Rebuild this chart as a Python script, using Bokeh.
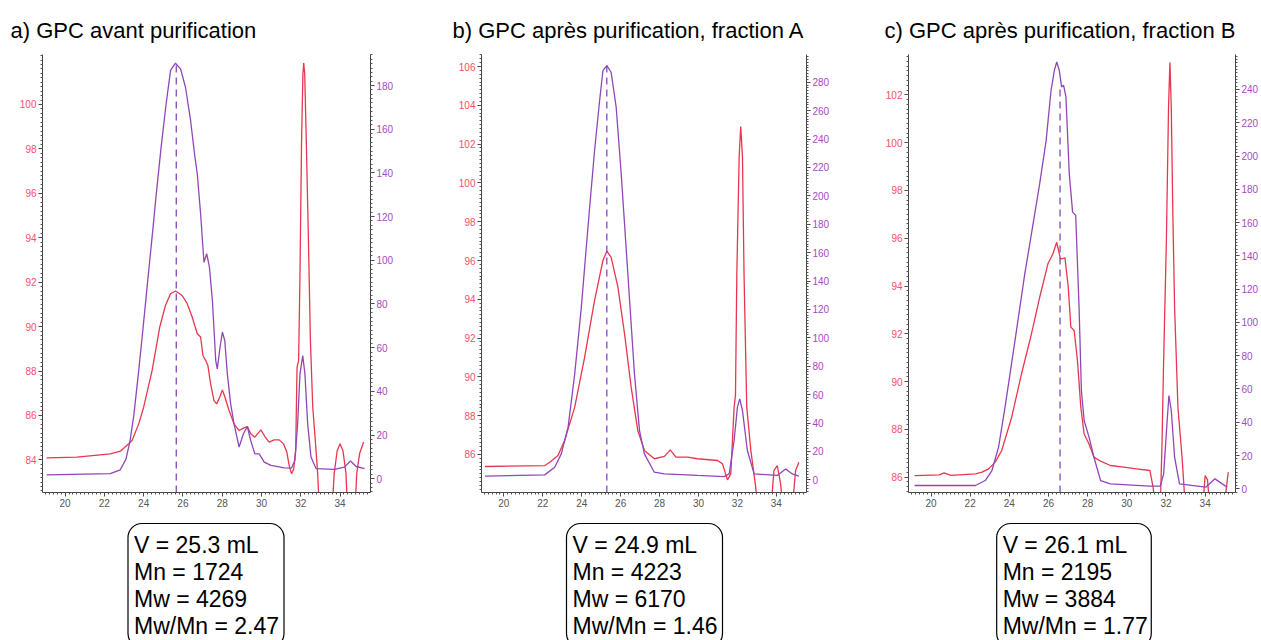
import numpy as np
from bokeh.plotting import figure
from bokeh.models import Range1d, LinearAxis, FixedTicker
from bokeh.layouts import row, column
from bokeh.embed import file_html
from bokeh.resources import INLINE
from bokeh.core.properties import value

# ---------------- texts ----------------
titles = ["a) GPC avant purification",
          "b) GPC après purification, fraction A",
          "c) GPC après purification, fraction B"]
box_lines = [["V = 25.3 mL", "Mn = 1724", "Mw = 4269", "Mw/Mn = 2.47"],
             ["V = 24.9 mL", "Mn = 4223", "Mw = 6170", "Mw/Mn = 1.46"],
             ["V = 26.1 mL", "Mn = 2195", "Mw = 3884", "Mw/Mn = 1.77"]]

# ---------------- ticks / ranges ----------------
x_ticks = [20, 22, 24, 26, 28, 30, 32, 34]
x_range_vals = (18.85, 35.55)
a_left_ticks = [84, 86, 88, 90, 92, 94, 96, 98, 100]
a_right_ticks = [0, 20, 40, 60, 80, 100, 120, 140, 160, 180]
b_left_ticks = [86, 88, 90, 92, 94, 96, 98, 100, 102, 104, 106]
b_right_ticks = [0, 20, 40, 60, 80, 100, 120, 140, 160, 180, 200, 220, 240, 260, 280]
c_left_ticks = [86, 88, 90, 92, 94, 96, 98, 100, 102]
c_right_ticks = [0, 20, 40, 60, 80, 100, 120, 140, 160, 180, 200, 220, 240]
a_left_range = (82.53, 102.25)
a_right_range = (-6.3, 194.2)
b_left_range = (84.04, 106.62)
b_right_range = (-8.9, 299.5)
c_left_range = (85.36, 103.69)
c_right_range = (-2.2, 261.0)

# ---------------- panel a ----------------
a_red_x = [19.06, 20.60, 22.30, 22.81, 23.24, 23.41, 23.75, 24.00, 24.43, 24.82, 25.11, 25.37, 25.62,
           25.96, 26.22, 26.47, 26.73, 26.90, 27.02, 27.16, 27.27, 27.41, 27.58, 27.72, 27.87, 28.01,
           28.14, 28.35, 28.60, 28.86, 29.11, 29.28, 29.45, 29.66, 29.97, 30.17, 30.39, 30.65, 30.90,
           31.12, 31.29, 31.41, 31.53, 31.64, 31.74, 31.81, 31.89, 31.96, 32.04, 32.11, 32.15, 32.20,
           32.28, 32.39, 32.49, 32.61, 32.74, 32.86, 32.98, 33.55, 33.70, 33.85, 34.00, 34.15, 34.30,
           34.42, 34.72, 34.85, 35.00, 35.20]
a_red_y = [84.09, 84.12, 84.27, 84.39, 84.72, 84.87, 85.62, 86.37, 88.02, 89.98, 90.95, 91.48, 91.60,
           91.40, 91.03, 90.43, 89.68, 89.53, 88.70, 88.47, 88.25, 87.42, 86.67, 86.52, 86.82, 87.15,
           86.82, 86.22, 85.62, 85.32, 85.44, 85.50, 85.17, 85.02, 85.35, 85.05, 84.80, 84.90, 84.90,
           84.72, 84.35, 83.74, 83.37, 83.59, 84.42, 88.17, 88.47, 92.38, 98.38, 101.39, 101.87, 101.39,
           98.38, 93.88, 89.38, 86.37, 84.87, 83.37, 81.12, 81.00, 83.37, 84.40, 84.73, 84.40, 83.40,
           81.00, 81.00, 83.40, 84.30, 84.80]
a_pur_x = [19.06, 22.30, 22.81, 23.10, 23.30, 23.50, 23.75, 23.97, 24.20, 24.43, 24.65, 24.89, 25.14,
           25.37, 25.62, 25.88, 26.13, 26.39, 26.59, 26.73, 26.90, 27.07, 27.21, 27.35, 27.50, 27.67,
           27.75, 27.89, 28.01, 28.13, 28.26, 28.43, 28.60, 28.86, 29.08, 29.28, 29.45, 29.66, 29.88,
           30.14, 30.48, 31.16, 31.53, 31.70, 31.84, 31.96, 32.10, 32.21, 32.35, 32.52, 32.78, 33.71,
           34.22, 34.53, 34.82, 35.25]
a_pur_y = [1.8, 2.3, 4.1, 9.0, 17.0, 29.0, 49.6, 69.0, 90.0, 110.6, 131.0, 151.8, 171.3,
           186.9, 190.2, 187.6, 179.2, 164.0, 148.7, 139.6, 121.3, 99.1, 103.0, 96.9, 81.6, 54.1,
           50.3, 60.3, 67.1, 63.3, 48.0, 34.3, 25.2, 14.5, 20.6, 23.9, 17.5, 11.4, 11.4,
           7.6, 6.1, 5.0, 4.9, 8.4, 25.2, 48.0, 56.4, 48.0, 25.2, 9.9, 4.6, 4.3,
           5.3, 8.1, 5.6, 4.6]
a_dash = (25.66, 190.2)

# ---------------- panel b ----------------
b_red_x = [19.03, 22.10, 22.36, 22.78, 23.12, 23.64, 24.15, 24.66, 25.09, 25.29, 25.51, 25.86, 26.20,
           26.54, 26.88, 27.22, 27.73, 28.25, 28.55, 28.84, 29.44, 29.95, 30.98, 31.23, 31.49, 31.66,
           31.83, 31.90, 31.97, 32.09, 32.17, 32.26, 32.34, 32.48, 32.69, 32.94, 33.06, 33.70, 33.88,
           34.05, 34.22, 34.35, 34.80, 34.99, 35.16]
b_red_y = [85.38, 85.43, 85.60, 85.95, 86.72, 88.44, 91.02, 93.94, 96.00, 96.48, 96.17, 94.63, 92.22,
           89.47, 87.24, 86.21, 85.78, 85.90, 86.24, 85.86, 85.86, 85.78, 85.69, 85.52, 84.69, 85.00,
           88.44, 89.04, 95.31, 101.33, 102.91, 101.33, 95.31, 88.44, 86.21, 84.32, 82.90, 83.00, 85.18,
           85.43, 84.49, 83.00, 83.00, 85.18, 85.60]
b_pur_x = [19.03, 22.10, 22.61, 22.95, 23.30, 23.64, 23.98, 24.32, 24.66, 24.92, 25.09, 25.29, 25.51,
           25.77, 26.03, 26.37, 26.71, 26.97, 27.22, 27.73, 28.25, 29.95, 31.32, 31.58, 31.83, 32.00,
           32.12, 32.26, 32.51, 32.86, 34.05, 34.48, 34.82, 35.16]
b_pur_y = [2.6, 3.5, 8.9, 18.3, 37.1, 74.6, 121.6, 177.9, 231.9, 267.1, 288.2, 291.7, 287.0,
           262.4, 215.4, 145.0, 74.6, 34.7, 18.3, 5.4, 4.2, 3.1, 2.3, 4.2, 27.7, 51.2,
           57.0, 48.8, 20.7, 4.2, 3.1, 7.7, 4.2, 2.6]
b_dash = (25.29, 291.7)

# ---------------- panel c ----------------
c_red_x = [19.16, 20.42, 20.67, 21.01, 22.27, 22.61, 22.94, 23.28, 23.61, 24.12, 24.62, 25.13, 25.55,
           25.97, 26.22, 26.42, 26.61, 26.84, 27.01, 27.14, 27.31, 27.48, 27.65, 27.82, 28.07, 28.32,
           28.66, 29.16, 29.83, 30.50, 31.18, 31.34, 31.48, 31.71, 31.80, 31.88, 32.02, 32.13, 32.20,
           32.27, 32.35, 32.44, 32.61, 32.82, 32.99, 33.87, 34.00, 34.12, 34.24, 34.96, 35.18]
c_red_y = [86.07, 86.10, 86.18, 86.08, 86.14, 86.21, 86.35, 86.63, 87.12, 88.51, 90.32, 92.00, 93.53,
           94.93, 95.34, 95.83, 95.13, 95.18, 93.95, 92.28, 92.14, 90.88, 88.93, 87.81, 87.39, 86.84,
           86.67, 86.49, 86.42, 86.35, 86.28, 85.58, 84.70, 84.70, 87.53, 90.88, 95.90, 101.48, 103.36,
           101.48, 97.02, 93.11, 88.93, 86.84, 84.70, 84.70, 86.07, 85.89, 84.70, 84.70, 86.21]
c_pur_x = [19.16, 22.27, 22.77, 23.11, 23.45, 23.78, 24.29, 24.79, 25.13, 25.55, 25.88, 26.13, 26.30,
           26.42, 26.55, 26.67, 26.77, 26.89, 27.06, 27.23, 27.39, 27.56, 27.68, 27.82, 28.07, 28.32,
           28.66, 29.16, 31.18, 31.71, 31.88, 32.05, 32.15, 32.27, 32.44, 32.69, 34.03, 34.50, 34.87,
           35.13]
c_pur_y = [2.0, 2.0, 5.0, 11.0, 25.1, 49.1, 89.2, 129.3, 153.3, 183.4, 209.4, 239.5, 251.5,
           256.5, 251.5, 241.5, 242.5, 235.5, 189.4, 166.3, 164.3, 109.2, 59.1, 41.1, 31.1, 19.0,
           5.0, 3.0, 1.6, 1.6, 9.0, 39.1, 56.1, 47.1, 19.0, 3.0, 1.0, 6.0, 3.0,
           1.0]
c_dash = (26.59, 241.5)

# ---------------- styling ----------------
RED = "#e8364f"
PURPLE = "#9146b8"
RED_LABEL = "#ff4d6d"
PURPLE_LABEL = "#a64ac0"
DASH = "#7a3bb0"
FONT = "Liberation Sans"

FIG_H = 515
BOX_H = 125


def minor(lo, hi, step):
    start = np.floor(lo / step) * step
    return [round(float(v), 3) for v in np.arange(start, hi + step, step)]


def style_axis(ax, color):
    ax.axis_line_color = "#444444"
    ax.major_tick_line_color = "#444444"
    ax.minor_tick_line_color = "#555555"
    ax.major_tick_in = 0
    ax.major_tick_out = 4
    ax.minor_tick_in = 0
    ax.minor_tick_out = 2
    ax.major_label_text_font = FONT
    ax.major_label_text_font_size = "10px"
    ax.major_label_text_color = color
    ax.major_label_standoff = 2
    ax.axis_label_standoff = 0


def make_panel(title, offset, W, mbl, mbr, yl, yr, lt, rt, rx, ry, px, py, dash):
    p = figure(width=W, height=FIG_H, title=title,
               x_range=Range1d(*x_range_vals), y_range=Range1d(*yl),
               output_backend="svg", toolbar_location=None,
               min_border_left=mbl, min_border_right=mbr,
               min_border_top=54, min_border_bottom=23)
    p.extra_y_ranges = {"r": Range1d(*yr)}
    p.grid.visible = False
    p.outline_line_color = None
    p.background_fill_color = "white"
    p.border_fill_color = "white"

    p.xaxis.ticker = FixedTicker(ticks=x_ticks, minor_ticks=minor(*x_range_vals, 0.2))
    style_axis(p.xaxis[0], "#555555")
    p.yaxis.ticker = FixedTicker(ticks=lt, minor_ticks=minor(yl[0], yl[1], 0.2))
    style_axis(p.yaxis[0], RED_LABEL)
    step_r = (rt[1] - rt[0]) / 10
    rax = LinearAxis(y_range_name="r",
                     ticker=FixedTicker(ticks=rt, minor_ticks=minor(yr[0], yr[1], step_r)))
    style_axis(rax, PURPLE_LABEL)
    p.add_layout(rax, "right")

    p.title.text_font = FONT
    p.title.text_font_size = "22px"
    p.title.text_font_style = "normal"
    p.title.text_color = "black"
    p.title.align = "left"
    p.title.offset = offset
    p.title.standoff = 23

    p.line(rx, ry, line_color=RED, line_width=1.3)
    p.line(px, py, line_color=PURPLE, line_width=1.3, y_range_name="r")
    p.segment(x0=[dash[0]], y0=[yr[0]], x1=[dash[0]], y1=[dash[1]], y_range_name="r",
              line_color=DASH, line_width=1.2, line_dash="7 5")
    return p


def make_box(W, mbl, mbr, cx, lines):
    fw = W - mbl - mbr
    b = figure(width=W, height=BOX_H, x_range=Range1d(0, fw), y_range=Range1d(BOX_H, 0),
               output_backend="svg", toolbar_location=None,
               x_axis_type=None, y_axis_type=None,
               min_border_left=mbl, min_border_right=mbr,
               min_border_top=0, min_border_bottom=0)
    b.grid.visible = False
    b.outline_line_color = None
    b.quad(left=[cx - 78], right=[cx + 78], top=[8], bottom=[132],
           fill_color=None, line_color="black", line_width=1.2, border_radius=14)
    b.text(x=[cx - 72] * 4, y=[29, 56, 83, 110], text=lines,
           text_font=value(FONT), text_font_size="23px", text_baseline="middle",
           text_align="left", text_color="black")
    return b


pa = make_panel(titles[0], -32, 447, 42, 77, a_left_range, a_right_range, a_left_ticks, a_right_ticks,
                a_red_x, a_red_y, a_pur_x, a_pur_y, a_dash)
pb = make_panel(titles[1], -29, 427, 34, 68, b_left_range, b_right_range, b_left_ticks, b_right_ticks,
                b_red_x, b_red_y, b_pur_x, b_pur_y, b_dash)
pc = make_panel(titles[2], -24, 387, 34, 23, c_left_range, c_right_range, c_left_ticks, c_right_ticks,
                c_red_x, c_red_y, c_pur_x, c_pur_y, c_dash)

ba = make_box(447, 42, 77, 163.5, box_lines[0])
bb = make_box(427, 34, 68, 163, box_lines[1])
bc = make_box(387, 34, 23, 167, box_lines[2])

layout = row(column(pa, ba, spacing=0), column(pb, bb, spacing=0), column(pc, bc, spacing=0), spacing=0)

open("out.html", "w").write(file_html(layout, INLINE))
